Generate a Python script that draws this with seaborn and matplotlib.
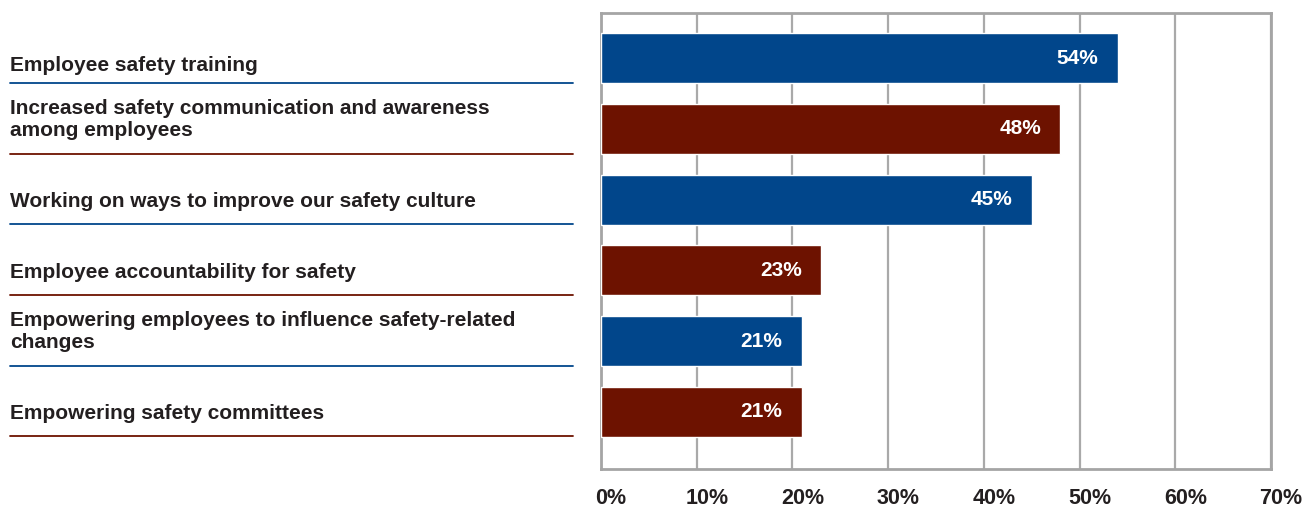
import matplotlib
matplotlib.use("Agg")
import matplotlib.pyplot as plt
import matplotlib.transforms as mtransforms
from matplotlib.lines import Line2D
import seaborn as sns
import pandas as pd

categories = [
    "Employee safety training",
    "Increased safety communication and awareness\namong employees",
    "Working on ways to improve our safety culture",
    "Employee accountability for safety",
    "Empowering employees to influence safety-related\nchanges",
    "Empowering safety committees",
]
values = [54, 48, 45, 23, 21, 21]
value_labels = ["54%", "48%", "45%", "23%", "21%", "21%"]
tick_values = [0, 10, 20, 30, 40, 50, 60, 70]
tick_labels = ["0%", "10%", "20%", "30%", "40%", "50%", "60%", "70%"]

BLUE = "#01468b"
RED = "#6d1200"
colors = [BLUE, RED, BLUE, RED, BLUE, RED]

sns.set_theme(style="white")
plt.rcParams["font.family"] = ["Liberation Sans", "DejaVu Sans"]

W, H = 1311, 508
fig = plt.figure(figsize=(W / 100, H / 100), dpi=100)
ax = fig.add_axes([601 / W, 1 - 469 / H, (1271 - 601) / W, (469 - 13) / H])

df = pd.DataFrame({"cat": categories, "val": values})
sns.barplot(data=df, x="val", y="cat", hue="cat", palette=colors, legend=False,
            width=0.71, saturation=1, orient="h", ax=ax, zorder=3)

ax.set_xlim(0, 70)
ax.set_ylim(5.81, -0.64)
ax.set_xticks(tick_values)
ax.set_xticklabels(tick_labels, fontsize=15.5, fontweight="bold", color="#231f20")
ax.tick_params(axis="x", length=0, pad=14)
shift = mtransforms.ScaledTranslation(10 / 100, 0, fig.dpi_scale_trans)
for lbl in ax.get_xticklabels():
    lbl.set_transform(lbl.get_transform() + shift)
ax.set_yticks([])
ax.set_xlabel("")
ax.set_ylabel("")
ax.xaxis.grid(True, color="#a9a9a9", linewidth=1.6, zorder=0)
ax.set_axisbelow(True)
for s in ax.spines.values():
    s.set_visible(True)
    s.set_color("#a5a5a5")
    s.set_linewidth(2)

# value labels inside bars
for i, (v, lab) in enumerate(zip(values, value_labels)):
    ax.annotate(lab, xy=(v, i), xytext=(-14, 0), textcoords="offset points",
                ha="right", va="center", color="white", fontsize=15,
                fontweight="bold", zorder=5)

# left category labels with coloured underlines
trans = mtransforms.blended_transform_factory(fig.transFigure, ax.transData)
for i, (cat, c) in enumerate(zip(categories, colors)):
    off = -0.14 if "\n" in cat else 0.03
    if i == 0:
        off = 0.1
    fig.text(10 / W, i + off, cat, transform=trans, ha="left", va="center",
             fontsize=15, fontweight="bold", color="#231f20",
             linespacing=1.2)
    ln = Line2D([10 / W, 573 / W], [i + 0.35, i + 0.35], transform=trans,
                color=c, linewidth=1.3)
    fig.add_artist(ln)

fig.savefig("out.png", dpi=100)
